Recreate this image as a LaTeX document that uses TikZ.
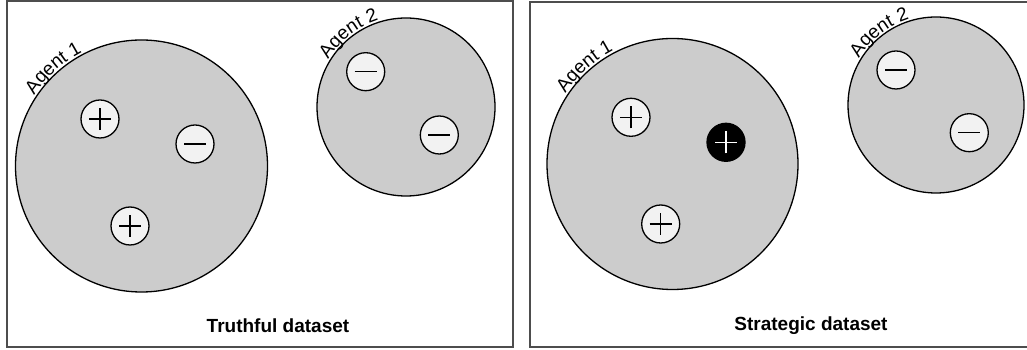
\documentclass[tikz,border=0pt]{standalone}
\usepackage{fontspec}
\setmainfont{Liberation Sans}
\usetikzlibrary{decorations.text,calc}
\definecolor{agentfill}{HTML}{CCCCCC}
\definecolor{samplefill}{HTML}{F2F2F2}
\definecolor{framegray}{HTML}{4D4D4D}
\begin{document}
\begin{tikzpicture}[x=1pt,y=1pt,
  panel/.style={draw=framegray, line width=2pt},
  agent/.style={circle, draw=black, line width=1.3pt, fill=agentfill, inner sep=0pt, outer sep=0pt},
  sample/.style={circle, draw=black, line width=1.3pt, fill=samplefill, inner sep=0pt, outer sep=0pt, minimum size=38pt},
  plussign/.style={path picture={
     \draw[line width=1.4pt, #1] ([xshift=-11pt]path picture bounding box.center) -- ([xshift=11pt]path picture bounding box.center);
     \draw[line width=1.4pt, #1] ([yshift=-11pt]path picture bounding box.center) -- ([yshift=11pt]path picture bounding box.center);}},
  minussign/.style={path picture={
     \draw[line width=1.4pt, #1] ([xshift=-11pt]path picture bounding box.center) -- ([xshift=11pt]path picture bounding box.center);}},
  plussample/.style={sample, plussign=black},
  minussample/.style={sample, minussign=black},
  strategicsample/.style={sample, fill=black, plussign=white},
  agentlabel/.style={decorate, decoration={text along path, text align=center, text={|\fontsize{19}{22}\selectfont|#1}}},
  caption/.style={font=\bfseries\fontsize{19}{22}\selectfont, anchor=base, inner sep=0pt}
]
\useasboundingbox (0,0) rectangle (1027,350);
\clip (0,0) rectangle (1027,350);

% panels
\draw[panel] (7,3) rectangle (513,349);
\draw[panel] (530,2.5) rectangle (1040,348);

% ---- truthful dataset ----
\node[agent, minimum size=252pt] (a1) at (141.5,184) {};
\node[agent, minimum size=178pt] (a2) at (406,243) {};
\path[agentlabel={Agent 1}] ($(a1.center)+(155:128.5)$) arc[start angle=155, end angle=109, radius=128.5];
\path[agentlabel={Agent 2}] ($(a2.center)+(165:91)$) arc[start angle=165, end angle=91, radius=91];
\node[plussample] (p1) at (100,231) {};
\node[minussample] (m1) at (195,206) {};
\node[plussample] (p2) at (130,124) {};
\node[minussample] (m2) at (365.7,278.3) {};
\node[minussample] (m3) at (439.3,215) {};
\node[caption] (t1) at (278,17.3) {Truthful dataset};

% ---- strategic dataset ----
\node[agent, minimum size=251pt] (b1) at (672.5,186) {};
\node[agent, minimum size=176pt] (b2) at (936,245) {};
\path[agentlabel={Agent 1}] ($(b1.center)+(155:128)$) arc[start angle=155, end angle=109, radius=128];
\path[agentlabel={Agent 2}] ($(b2.center)+(165:90)$) arc[start angle=165, end angle=91, radius=90];
\node[plussample] (q1) at (631,232.7) {};
\node[strategicsample] (s1) at (726,207.7) {};
\node[plussample] (q2) at (660.7,126) {};
\node[minussample] (n2) at (896,280) {};
\node[minussample] (n3) at (969.3,217.3) {};
\node[caption] (t2) at (811,19) {Strategic dataset};
\end{tikzpicture}
\end{document}
